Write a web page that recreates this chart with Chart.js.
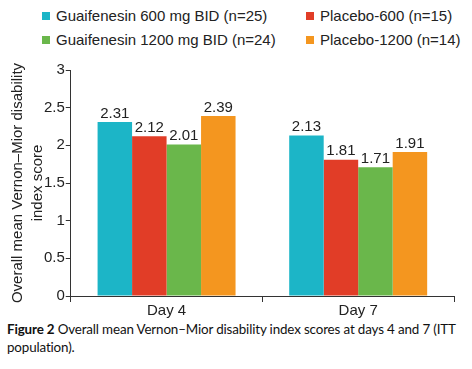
<!DOCTYPE html>
<html>
<head>
<meta charset="utf-8">
<script src="https://cdn.jsdelivr.net/npm/chart.js@4"></script>
<style>
  html, body { margin: 0; padding: 0; background: #fff; }
  body { width: 472px; height: 369px; position: relative; overflow: hidden; font-family: "Liberation Sans", Arial, sans-serif; }
  #wrap { position: absolute; left: 0; top: 0; width: 472px; height: 320px; }
  #legend { position: absolute; left: 42px; top: 6px; display: grid; grid-template-columns: 264px auto; row-gap: 5px; font-size: 15px; color: #222; }
  #legend .item { display: flex; align-items: center; white-space: nowrap; line-height: 19px; }
  #legend .sw { width: 8px; height: 8px; margin-right: 6px; }
  #caption { position: absolute; left: 7px; top: 320px; width: 464px; font-family: Lato, "Open Sans", sans-serif; font-size: 13.4px; letter-spacing: -0.15px; line-height: 18px; color: #111; }
</style>
</head>
<body>
<div id="legend"></div>
<div id="wrap"><canvas id="chart"></canvas></div>
<div id="caption"><b>Figure 2</b> Overall mean Vernon–Mior disability index scores at days 4 and 7 (ITT population).</div>
<script>
// categories and series
const days = ['Day 4', 'Day 7'];
const seriesNames = [
  'Guaifenesin 600 mg BID (n=25)',
  'Placebo-600 (n=15)',
  'Guaifenesin 1200 mg BID (n=24)',
  'Placebo-1200 (n=14)'
];
const guai600 = [2.31, 2.13];
const placebo600 = [2.12, 1.81];
const guai1200 = [2.01, 1.71];
const placebo1200 = [2.39, 1.91];
const colors = ['#1cb5c7', '#e13d27', '#6ab74b', '#f4961f'];
const yTicks = [0, 0.5, 1, 1.5, 2, 2.5, 3];

const values = [guai600, placebo600, guai1200, placebo1200];
const font = { family: '"Liberation Sans", Arial, sans-serif', size: 15 };

// value labels above each bar
const barLabels = {
  id: 'barLabels',
  afterDatasetsDraw(chart) {
    const ctx = chart.ctx;
    ctx.save();
    ctx.font = '15px "Liberation Sans", Arial, sans-serif';
    ctx.fillStyle = '#222';
    ctx.textAlign = 'center';
    ctx.textBaseline = 'bottom';
    chart.data.datasets.forEach((ds, i) => {
      chart.getDatasetMeta(i).data.forEach((bar, j) => {
        ctx.fillText(ds.data[j].toFixed(2), bar.x, bar.y - 1);
      });
    });
    ctx.restore();
  }
};

const chart = new Chart(document.getElementById('chart'), {
  type: 'bar',
  data: {
    labels: days,
    datasets: seriesNames.map((name, i) => ({
      label: name,
      data: values[i],
      backgroundColor: colors[i],
      borderWidth: 0,
      categoryPercentage: 0.72,
      barPercentage: 1.0
    }))
  },
  options: {
    responsive: true,
    maintainAspectRatio: false,
    animation: false,
    layout: { padding: { top: 70, right: 18, left: 8, bottom: 0 } },
    plugins: { legend: { display: false }, tooltip: { enabled: false } },
    scales: {
      x: {
        grid: { drawOnChartArea: false, drawTicks: true, tickLength: 6, color: '#333', offset: true },
        border: { color: '#333', width: 1 },
        ticks: { color: '#222', font: font, padding: 0 }
      },
      y: {
        min: 0,
        max: 3,
        afterBuildTicks: axis => { axis.ticks = yTicks.map(v => ({ value: v })); },
        grid: { drawOnChartArea: false, drawTicks: true, tickLength: 5, color: '#333' },
        border: { color: '#333', width: 1 },
        ticks: { color: '#222', font: font, padding: 1, callback: v => String(v) },
        title: {
          display: true,
          text: ['Overall mean Vernon–Mior disability', 'index score'],
          color: '#222',
          font: { family: font.family, size: 15, lineHeight: 1.33 },
          padding: { top: 0, bottom: -5 }
        }
      }
    }
  },
  plugins: [barLabels]
});

// HTML legend built from the chart's own datasets
const legendEl = document.getElementById('legend');
chart.data.datasets.forEach(ds => {
  const item = document.createElement('div');
  item.className = 'item';
  const sw = document.createElement('span');
  sw.className = 'sw';
  sw.style.background = ds.backgroundColor;
  item.appendChild(sw);
  item.appendChild(document.createTextNode(ds.label));
  legendEl.appendChild(item);
});
</script>
</body>
</html>
